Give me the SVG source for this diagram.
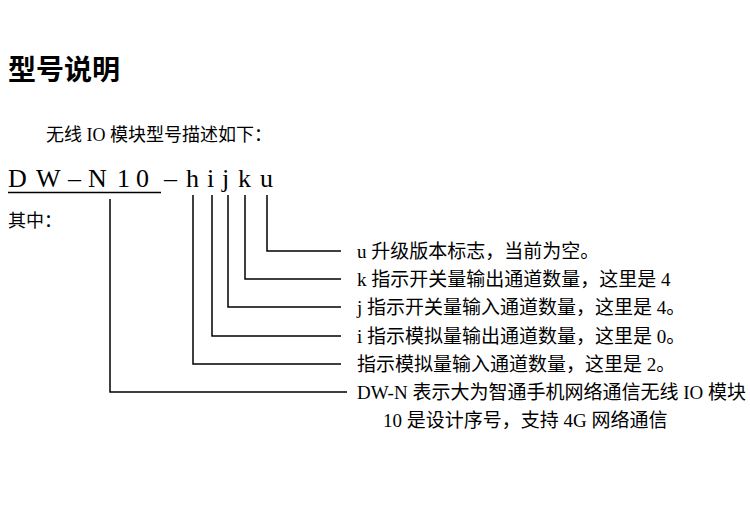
<svg xmlns="http://www.w3.org/2000/svg" width="750" height="528" viewBox="0 0 750 528">
<style>
.t{font-family:"Liberation Serif","Noto Sans CJK SC",serif;fill:#000;}
.h{font-family:"Noto Sans CJK SC",sans-serif;font-weight:bold;font-size:28px;fill:#000;}
.d{font-size:19px;}
.m{font-size:26px;}
.c{fill:none;stroke:#000;stroke-width:1.5;}
</style>
<rect width="750" height="528" fill="#fff"/>
<g id="title"><text class="h" x="8" y="80">型号说明</text></g>
<g id="intro"><text class="t" x="46" y="141" font-size="18">无线 IO 模块型号描述如下：</text></g>
<g id="model">
<text class="t m" y="187"><tspan x="8">D</tspan><tspan x="36">W</tspan><tspan x="68">–</tspan><tspan x="88">N</tspan><tspan x="117">1</tspan><tspan x="136">0</tspan><tspan x="164">–</tspan><tspan x="186">h</tspan><tspan x="207">i</tspan><tspan x="222">j</tspan><tspan x="238">k</tspan><tspan x="260">u</tspan></text>
<line class="c" x1="8" y1="192.5" x2="161" y2="192.5"/>
</g>
<g id="among"><text class="t" x="8" y="227" font-size="18">其中：</text></g>
<g id="connectors">
<polyline class="c" points="267,195 267,251 341,251"/>
<polyline class="c" points="245,195 245,279 341,279"/>
<polyline class="c" points="228,195 228,307 341,307"/>
<polyline class="c" points="212,195 212,336 341,336"/>
<polyline class="c" points="193,195 193,364 341,364"/>
<polyline class="c" points="110,199 110,392 347,392"/>
</g>
<g id="label-u"><text class="t d" x="357" y="258">u 升级版本标志，当前为空。</text></g>
<g id="label-k"><text class="t d" x="357" y="286">k 指示开关量输出通道数量，这里是 4</text></g>
<g id="label-j"><text class="t d" x="357" y="314">j 指示开关量输入通道数量，这里是 4。</text></g>
<g id="label-i"><text class="t d" x="357" y="343">i 指示模拟量输出通道数量，这里是 0。</text></g>
<g id="label-h"><text class="t d" x="357" y="371">指示模拟量输入通道数量，这里是 2。</text></g>
<g id="label-dwn">
<text class="t d" x="357" y="399">DW-N 表示大为智通手机网络通信无线 IO 模块</text>
<text class="t d" x="383" y="427">10 是设计序号，支持 4G 网络通信</text>
</g>
</svg>
